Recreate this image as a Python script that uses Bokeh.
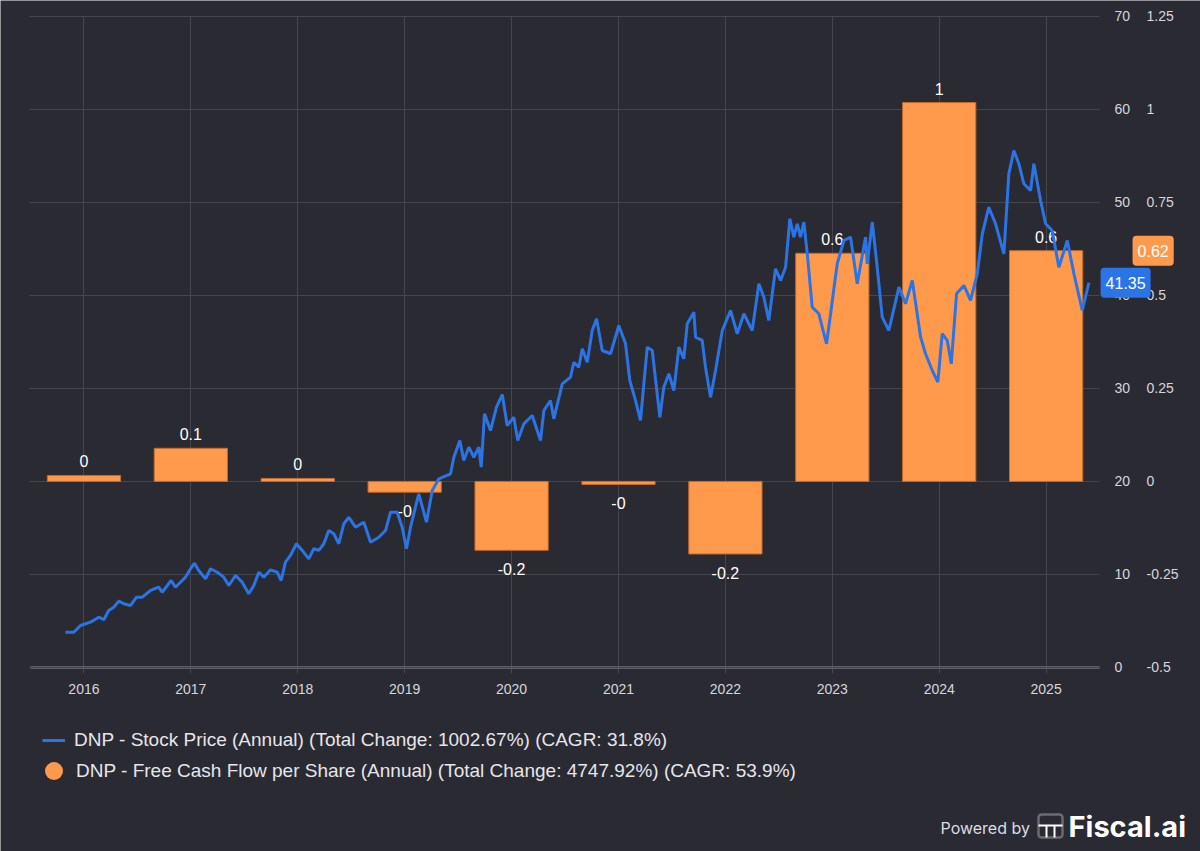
from bokeh.plotting import figure
from bokeh.models import (Range1d, LinearAxis, FixedTicker, Label, Legend, LegendItem,
                          ColumnDataSource, BoxAnnotation, CustomJSTickFormatter)
from bokeh.embed import file_html
from bokeh.resources import INLINE
from bokeh.core.properties import value

BG = "#2a2a33"
GRID = "#46464e"
AXIS = "#8e8e96"
BLUE = "#2b74e6"
ORANGE = "#ff9a4d"
BAR_EDGE = "#c46a2c"
TXT = "#d6d6db"
FONT = "Liberation Sans"

# ---- data ----
bar_years = [2016, 2017, 2018, 2019, 2020, 2021, 2022, 2023, 2024, 2025]
fcf_per_share = [0.016, 0.089, 0.008, -0.029, -0.185, -0.008, -0.195, 0.613, 1.018, 0.62]

price_time = [
    2015.827, 2015.905, 2015.968, 2016.061, 2016.139, 2016.186, 2016.232, 2016.279, 2016.326, 2016.373,
    2016.435, 2016.492, 2016.545, 2016.623, 2016.700, 2016.732, 2016.816, 2016.856, 2016.919, 2016.950,
    2016.997, 2017.034, 2017.074, 2017.137, 2017.184, 2017.247, 2017.308, 2017.355, 2017.418, 2017.480,
    2017.542, 2017.589, 2017.636, 2017.682, 2017.745, 2017.808, 2017.845, 2017.885, 2017.932, 2017.988,
    2018.042, 2018.103, 2018.150, 2018.197, 2018.244, 2018.290, 2018.337, 2018.384, 2018.431, 2018.478,
    2018.540, 2018.618, 2018.681, 2018.758, 2018.821, 2018.868, 2018.930, 2018.977, 2019.017, 2019.055,
    2019.132, 2019.204, 2019.258, 2019.320, 2019.429, 2019.460, 2019.516, 2019.553, 2019.600, 2019.647,
    2019.694, 2019.716, 2019.747, 2019.803, 2019.859, 2019.913, 2019.959, 2020.021, 2020.058, 2020.115,
    2020.193, 2020.271, 2020.302, 2020.364, 2020.395, 2020.474, 2020.551, 2020.582, 2020.629, 2020.661,
    2020.708, 2020.754, 2020.795, 2020.848, 2020.926, 2021.003, 2021.066, 2021.106, 2021.159, 2021.206,
    2021.269, 2021.316, 2021.387, 2021.424, 2021.471, 2021.518, 2021.565, 2021.611, 2021.643, 2021.705,
    2021.721, 2021.783, 2021.814, 2021.861, 2021.908, 2021.971, 2022.048, 2022.111, 2022.173, 2022.251,
    2022.313, 2022.360, 2022.406, 2022.469, 2022.516, 2022.563, 2022.603, 2022.640, 2022.672, 2022.703,
    2022.734, 2022.766, 2022.812, 2022.874, 2022.946, 2022.984, 2023.046, 2023.108, 2023.171, 2023.233,
    2023.311, 2023.327, 2023.374, 2023.420, 2023.467, 2023.529, 2023.623, 2023.685, 2023.748, 2023.826,
    2023.872, 2023.935, 2023.987, 2024.028, 2024.075, 2024.113, 2024.162, 2024.231, 2024.293, 2024.356,
    2024.403, 2024.464, 2024.527, 2024.605, 2024.651, 2024.698, 2024.745, 2024.792, 2024.855, 2024.885,
    2024.948, 2024.995, 2025.057, 2025.119, 2025.198, 2025.260, 2025.338, 2025.400,
]
stock_price = [
    3.80, 3.79, 4.51, 4.87, 5.41, 5.13, 6.13, 6.48, 7.13, 6.85,
    6.66, 7.56, 7.56, 8.28, 8.63, 8.09, 9.35, 8.63, 9.35, 9.71,
    10.61, 11.21, 10.43, 9.53, 10.61, 10.24, 9.71, 8.81, 9.89, 9.17,
    7.92, 8.81, 10.24, 9.71, 10.50, 10.24, 9.35, 11.32, 12.04, 13.30,
    12.58, 11.68, 12.76, 12.58, 13.30, 14.72, 14.37, 13.30, 15.45, 16.15,
    15.08, 15.62, 13.47, 14.00, 14.72, 16.69, 16.69, 15.08, 12.76, 15.08,
    18.67, 15.62, 19.02, 20.28, 20.82, 22.60, 24.40, 22.25, 23.68, 22.60,
    23.68, 21.53, 27.27, 25.47, 27.98, 29.34, 26.01, 26.90, 24.40, 26.19,
    27.09, 24.40, 27.62, 28.70, 26.73, 30.49, 31.20, 32.81, 32.28, 34.25,
    32.81, 36.22, 37.48, 34.07, 33.72, 36.76, 34.79, 30.85, 28.70, 26.55,
    34.43, 34.07, 26.90, 30.13, 31.57, 29.77, 34.43, 33.18, 36.94, 38.19,
    35.50, 35.15, 32.28, 29.05, 31.92, 36.22, 38.37, 35.87, 38.02, 36.22,
    41.24, 39.80, 37.30, 42.85, 41.60, 43.02, 48.23, 46.25, 47.69, 46.25,
    47.86, 44.46, 38.73, 38.02, 34.79, 38.02, 43.39, 45.89, 46.25, 41.24,
    46.25, 43.39, 47.86, 43.02, 37.65, 36.22, 40.88, 39.09, 41.60, 35.50,
    33.72, 31.92, 30.66, 35.87, 35.15, 32.64, 40.17, 41.06, 39.45, 42.32,
    46.61, 49.47, 47.69, 44.46, 53.06, 55.57, 54.14, 51.99, 51.27, 54.14,
    50.19, 47.69, 46.97, 43.02, 45.89, 42.32, 38.37, 41.35,
]

year_ticks = [2016, 2017, 2018, 2019, 2020, 2021, 2022, 2023, 2024, 2025]
price_ticks = [0, 10, 20, 30, 40, 50, 60, 70]
fcf_ticks = [-0.5, -0.25, 0, 0.25, 0.5, 0.75, 1, 1.25]

legend_price = "DNP - Stock Price (Annual) (Total Change: 1002.67%) (CAGR: 31.8%)"
legend_fcf = "DNP - Free Cash Flow per Share (Annual) (Total Change: 4747.92%) (CAGR: 53.9%)"
footer_powered = "Powered by"
footer_brand = "Fiscal.ai"

# ---- layout: the frame covers the whole canvas; the plotting area is
# 2015.5..2025.5 (x) and 0..70 (price) inside it ----
W, H = 1200, 851
X_START, X_END = 2015.5, 2025.5
P_START, P_END = 0, 70
PX_YEAR = 107.0
PX_PRICE = 9.304
xr = Range1d(X_START - 30 / PX_YEAR, X_END + 101 / PX_YEAR)
yr = Range1d(P_START - 184 / PX_PRICE, P_END + 15.7 / PX_PRICE)
fr = Range1d((yr.start - 20) / 40, (yr.end - 20) / 40)   # fcf = (price - 20) / 40

p = figure(width=W, height=H, x_range=xr, y_range=yr,
           x_axis_location=None, y_axis_location=None,
           output_backend="svg", toolbar_location=None,
           min_border=0, min_border_left=0, min_border_right=0,
           min_border_top=0, min_border_bottom=0,
           background_fill_color=BG, border_fill_color=BG, outline_line_color=None)
p.grid.visible = False
p.extra_y_ranges = {"fcf": fr}

blank = CustomJSTickFormatter(code="return ''")

def style_labels(ax, size="14px"):
    ax.major_label_text_color = TXT
    ax.major_label_text_font = FONT
    ax.major_label_text_font_size = size

# vertical grid lines (drawn as long ticks of an underlay x axis)
gx = LinearAxis(fixed_location=P_START, ticker=FixedTicker(ticks=year_ticks), formatter=blank,
                axis_line_color=None, major_tick_line_color=GRID,
                major_tick_in=int(round((P_END - P_START) * PX_PRICE)), major_tick_out=6,
                minor_tick_line_color=None, level="underlay")
p.add_layout(gx, "below")
# horizontal grid lines (long ticks of an underlay price axis)
gy = LinearAxis(fixed_location=X_END, ticker=FixedTicker(ticks=price_ticks), formatter=blank,
                axis_line_color=None, major_tick_line_color=GRID,
                major_tick_in=int(round((X_END - X_START) * PX_YEAR)), major_tick_out=0,
                minor_tick_line_color=None, level="underlay")
p.add_layout(gy, "right")

# x axis with labels
xa = LinearAxis(fixed_location=P_START, ticker=FixedTicker(ticks=year_ticks), bounds=(X_START, X_END),
                axis_line_color=AXIS, axis_line_width=2, major_tick_line_color=None,
                minor_tick_line_color=None, major_tick_out=6, major_tick_in=0,
                major_label_standoff=11, level="underlay")
style_labels(xa)
p.add_layout(xa, "below")

# price axis (right)
ya = LinearAxis(fixed_location=X_END, ticker=FixedTicker(ticks=price_ticks),
                axis_line_color=None, major_tick_line_color=None, minor_tick_line_color=None,
                major_tick_out=0, major_label_standoff=15, major_label_text_align="left",
                level="underlay")
style_labels(ya)
p.add_layout(ya, "right")

# fcf axis (right, outer)
fa = LinearAxis(y_range_name="fcf", fixed_location=X_END + 32 / PX_YEAR,
                ticker=FixedTicker(ticks=fcf_ticks),
                formatter=CustomJSTickFormatter(code="return tick.toString()"),
                axis_line_color=None, major_tick_line_color=None, minor_tick_line_color=None,
                major_tick_out=0, major_label_standoff=15, major_label_text_align="left",
                level="underlay")
style_labels(fa)
p.add_layout(fa, "right")

# bars
p.vbar(x=bar_years, top=fcf_per_share, bottom=0, width=0.685, y_range_name="fcf",
       fill_color=ORANGE, line_color=BAR_EDGE, line_width=1)

# bar labels
def fmt(v):
    return f"{v:.1f}".rstrip("0").rstrip(".")

pos = ColumnDataSource(dict(x=[x for x, v in zip(bar_years, fcf_per_share) if v >= 0],
                            y=[v for v in fcf_per_share if v >= 0],
                            t=[fmt(v) for v in fcf_per_share if v >= 0]))
neg = ColumnDataSource(dict(x=[x for x, v in zip(bar_years, fcf_per_share) if v < 0],
                            y=[v for v in fcf_per_share if v < 0],
                            t=[fmt(v) for v in fcf_per_share if v < 0]))
p.text(x="x", y="y", text="t", source=pos, y_range_name="fcf", text_align="center",
       text_baseline="bottom", y_offset=-8, text_color="white", text_font_size="16px",
       text_font=value(FONT))
p.text(x="x", y="y", text="t", source=neg, y_range_name="fcf", text_align="center",
       text_baseline="top", y_offset=13, text_color="white", text_font_size="16px",
       text_font=value(FONT))

# stock line
line_r = p.line(price_time, stock_price, line_color=BLUE, line_width=3)

# zero-size marker renderer whose legend entry gives the orange circle
dot_r = p.scatter(x=bar_years, y=fcf_per_share, y_range_name="fcf", size=0,
                  fill_color=ORANGE, line_color=None)

# last-value badges
p.add_layout(Label(x=X_END, y=stock_price[-1], x_offset=1, text=f"{stock_price[-1]:.2f}",
                   text_align="left", text_baseline="middle", text_color="white",
                   text_font=FONT, text_font_size="16px",
                   background_fill_color=BLUE, padding=(5, 9), border_radius=4))
p.add_layout(Label(x=X_END, y=fcf_per_share[-1], y_range_name="fcf", x_offset=33,
                   text=f"{fcf_per_share[-1]:.2f}", text_align="left", text_baseline="middle",
                   text_color="white", text_font=FONT, text_font_size="16px",
                   background_fill_color=ORANGE, padding=(5, 9), border_radius=4))

# legends
common = dict(padding=0, margin=0, spacing=0, background_fill_alpha=0, border_line_alpha=0,
              label_text_color="#e6e6ea", label_text_font=FONT, label_text_font_size="19px")
leg1 = Legend(items=[LegendItem(label=legend_price, renderers=[line_r])], location=(42, 100),
              glyph_width=23, glyph_height=20, label_standoff=9, **common)
leg2 = Legend(items=[LegendItem(label=legend_fcf, renderers=[dot_r])], location=(31, 58),
              glyph_width=45, glyph_height=45, label_standoff=-5, **common)
p.add_layout(leg1)
p.add_layout(leg2)

# footer
p.add_layout(Label(x=940, y=24, x_units="screen", y_units="screen", text=footer_powered,
                   text_align="left", text_baseline="middle", text_color="#dcdce0",
                   text_font="Inter", text_font_size="16px"))
p.add_layout(Label(x=1068, y=25, x_units="screen", y_units="screen", text=footer_brand,
                   text_align="left", text_baseline="middle", text_color="white",
                   text_font="Inter", text_font_style="bold", text_font_size="29px"))
box = dict(left_units="screen", right_units="screen", bottom_units="screen", top_units="screen")
p.add_layout(BoxAnnotation(left=1038, right=1062, bottom=14, top=37, fill_alpha=0,
                           line_color="white", line_width=2.5, border_radius=3, **box))
p.add_layout(BoxAnnotation(left=1038, right=1062, bottom=25, top=27, fill_color="white",
                           fill_alpha=1, line_color=None, **box))
for lx in (1045, 1053):
    p.add_layout(BoxAnnotation(left=lx, right=lx + 2, bottom=14, top=26, fill_color="white",
                               fill_alpha=1, line_color=None, **box))

open("out.html", "w").write(file_html(p, INLINE))
